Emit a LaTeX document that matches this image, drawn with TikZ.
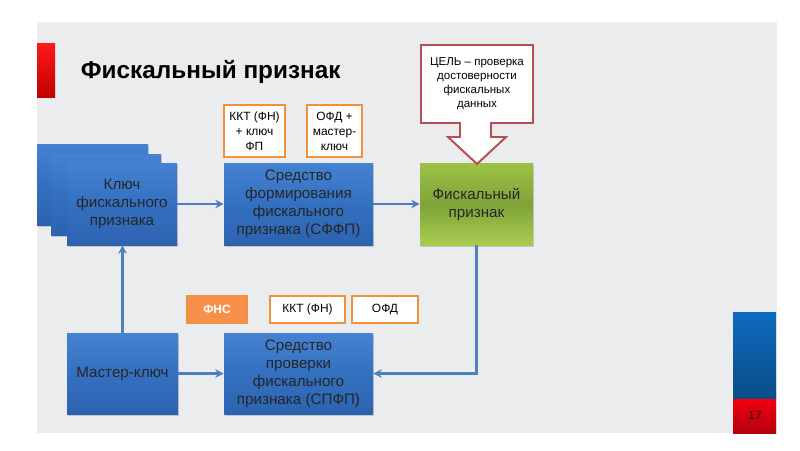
\documentclass[tikz,border=0pt]{standalone}
\usepackage{fontspec}
\setmainfont{Liberation Sans}
\usepackage{tikz}
\usetikzlibrary{arrows.meta, shadows}

\definecolor{panel}{HTML}{EBECEE}
\definecolor{BlueTop}{HTML}{4682D2}
\definecolor{BlueMid}{HTML}{3470C0}
\definecolor{BlueBot}{HTML}{2C63B0}
\definecolor{GreenTop}{HTML}{9DC245}
\definecolor{GreenMid}{HTML}{7FA33A}
\definecolor{GreenBot}{HTML}{A9CC4E}
\definecolor{OrangeLine}{HTML}{F0913F}
\definecolor{OrangeFill}{HTML}{F7904A}
\definecolor{GoalLine}{HTML}{B84E52}
\definecolor{LinkBlue}{HTML}{4F7FBE}
\definecolor{BarRed}{HTML}{F00010}
\definecolor{BarBlue}{HTML}{0E6CC0}

\newcommand{\pxu}{0.025cm}

\tikzset{
  bluebox/.style={top color=BlueTop, bottom color=BlueBot, middle color=BlueMid,
    text=black!85, align=center, inner sep=1pt,
    font=\fontsize{10.8}{12.8}\selectfont,
    drop shadow={opacity=0.35, shadow xshift=0.4pt, shadow yshift=-1.2pt}},
  greenbox/.style={bluebox, top color=GreenTop, bottom color=GreenBot, middle color=GreenMid},
  tagbox/.style={draw=OrangeLine, line width=1.4pt, fill=white, align=center,
    inner sep=1pt, font=\fontsize{8.5}{10.6}\selectfont},
  link/.style={draw=LinkBlue, line width=1.8pt, -{Stealth[length=6pt, width=6pt]}},
}

\begin{document}
\begin{tikzpicture}[x=\pxu, y=-\pxu]
	\useasboundingbox (0,0) rectangle (800,450);

	% panel and side bars
	\fill[panel] (37,22) rectangle (777,433);
	\shade[top color=red!90!white, bottom color=red!75!black] (37,43) rectangle (55,97);
	\shade[top color=BarBlue, bottom color=BarBlue!70!black] (733,312) rectangle (776,399);
	\shade[top color=BarRed, bottom color=BarRed!75!black] (733,399) rectangle (776,433);
	\node[font=\fontsize{8.5}{9}\selectfont, text=black!90] (pagenum) at (755,415) {17};

	\node[anchor=west, font=\fontsize{17.3}{20}\selectfont\bfseries] (title) at (76,72) {Фискальный признак};

	% key stack
	\node[bluebox, minimum width=111*\pxu, minimum height=81*\pxu] (keyA) at (92.5,184.5) {};
	\node[bluebox, minimum width=110*\pxu, minimum height=81*\pxu] (keyB) at (106,194.5) {};
	\node[bluebox, minimum width=110*\pxu, minimum height=82*\pxu] (key) at (122,204) {Ключ\\фискального\\признака};

	\node[bluebox, minimum width=149*\pxu, minimum height=82*\pxu] (sffp) at (298.5,204) {Средство\\формирования\\фискального\\признака (СФФП)};
	\node[greenbox, minimum width=113*\pxu, minimum height=82*\pxu] (fp) at (476.5,204) {Фискальный\\признак};

	\node[bluebox, minimum width=111*\pxu, minimum height=81*\pxu] (master) at (122.5,373.5) {Мастер-ключ};
	\node[bluebox, minimum width=149*\pxu, minimum height=81*\pxu] (spfp) at (298.5,373.5) {Средство\\проверки\\фискального\\признака (СПФП)};

	% tags
	\node[tagbox, minimum width=61*\pxu, minimum height=52*\pxu] (kktA) at (254.5,131) {ККТ (ФН)\\+ ключ\\ФП};
	\node[tagbox, minimum width=55*\pxu, minimum height=52*\pxu] (ofdA) at (334.5,131) {ОФД +\\мастер-\\ключ};
	\node[tagbox, fill=OrangeFill, text=white, font=\fontsize{8.5}{10.6}\selectfont\bfseries,
		minimum width=60*\pxu, minimum height=27*\pxu] (fns) at (217,309.5) {ФНС};
	\node[tagbox, minimum width=75*\pxu, minimum height=27*\pxu] (kktB) at (307.5,309.5) {ККТ (ФН)};
	\node[tagbox, minimum width=66*\pxu, minimum height=27*\pxu] (ofdB) at (385,309.5) {ОФД};

	% goal callout
	\draw[GoalLine, line width=1.4pt, fill=white, line join=miter]
		(421,45) -- (533,45) -- (533,123) -- (491,123) -- (491,137) -- (506,137)
		-- (477,164) -- (448,137) -- (460,137) -- (460,123) -- (421,123) -- cycle;
	\node[align=center, font=\fontsize{8.2}{10}\selectfont] (goal) at (477,84)
		{ЦЕЛЬ -- проверка\\достоверности\\фискальных\\данных};

	% connectors
	\draw[link] (key.east) -- (sffp.west);
	\draw[link] (sffp.east) -- (fp.west);
	\draw[link] (fp.south) |- (spfp.east);
	\draw[link] (master.east) -- (spfp.west);
	\draw[link] (master.north) -- (master.north |- key.south);

\end{tikzpicture}
\end{document}
